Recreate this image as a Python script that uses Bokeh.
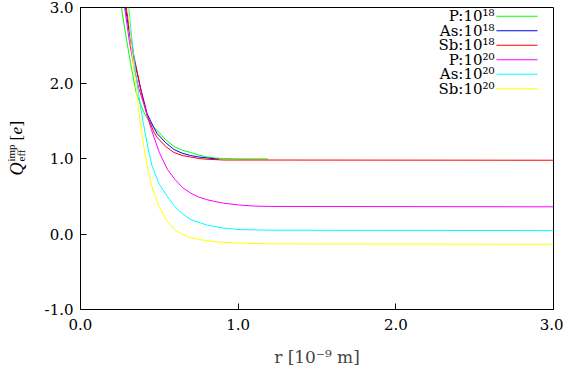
import math
from bokeh.plotting import figure
from bokeh.layouts import row
from bokeh.models import Label, BoxAnnotation, FixedTicker, CustomJSTickFormatter, Range1d
from bokeh.core.properties import value
from bokeh.embed import file_html
from bokeh.resources import INLINE

# ---- data ----
series_names = ["P:10¹⁸", "As:10¹⁸", "Sb:10¹⁸", "P:10²⁰", "As:10²⁰", "Sb:10²⁰"]
series_colors = ["#00ff00", "#0000ff", "#ff0000", "#ff00ff", "#00ffff", "#ffff00"]

r_P18 = [0.260, 0.285, 0.317, 0.353, 0.40, 0.44, 0.486, 0.54, 0.592, 0.645, 0.698, 0.75, 0.803, 0.856, 0.909, 1.0, 1.19]
q_P18 = [3.0, 2.66, 2.27, 1.87, 1.62, 1.47, 1.37, 1.25, 1.16, 1.11, 1.08, 1.045, 1.02, 1.005, 1.0, 0.995, 0.995]

r_As18 = [0.285, 0.33, 0.385, 0.423, 0.465, 0.486, 0.54, 0.592, 0.645, 0.698, 0.75, 0.803, 0.877]
q_As18 = [3.0, 2.4, 1.90, 1.59, 1.41, 1.33, 1.21, 1.12, 1.07, 1.04, 1.02, 1.007, 0.99]

r_Sb18 = [0.29, 0.335, 0.385, 0.423, 0.465, 0.486, 0.54, 0.592, 0.645, 0.698, 0.75, 0.803, 0.909, 3.0]
q_Sb18 = [3.0, 2.4, 1.88, 1.57, 1.35, 1.28, 1.16, 1.08, 1.04, 1.02, 1.0, 0.99, 0.98, 0.977]

r_P20 = [0.28, 0.31, 0.34, 0.37, 0.41, 0.45, 0.50, 0.55, 0.60, 0.65, 0.70, 0.75, 0.80, 0.90, 1.00, 1.10, 1.20, 3.0]
q_P20 = [3.0, 2.55, 2.2, 1.93, 1.66, 1.38, 1.08, 0.86, 0.72, 0.61, 0.54, 0.49, 0.455, 0.41, 0.385, 0.37, 0.365, 0.36]

r_As20 = [0.306, 0.33, 0.355, 0.38, 0.40, 0.43, 0.455, 0.50, 0.55, 0.60, 0.65, 0.70, 0.80, 0.90, 1.0, 1.2, 3.0]
q_As20 = [3.0, 2.5, 2.05, 1.70, 1.45, 1.12, 0.89, 0.66, 0.50, 0.36, 0.26, 0.19, 0.12, 0.08, 0.06, 0.05, 0.045]

r_Sb20 = [0.30, 0.325, 0.35, 0.375, 0.40, 0.425, 0.45, 0.50, 0.55, 0.60, 0.65, 0.70, 0.80, 0.90, 1.0, 1.2, 3.0]
q_Sb20 = [3.0, 2.45, 1.98, 1.55, 1.18, 0.88, 0.65, 0.35, 0.17, 0.05, -0.01, -0.05, -0.09, -0.11, -0.12, -0.13, -0.137]

x_ticks = [0, 1, 2, 3]
y_ticks = [-1, 0, 1, 2, 3]

series_r = [r_P18, r_As18, r_Sb18, r_P20, r_As20, r_Sb20]
series_q = [q_P18, q_As18, q_Sb18, q_P20, q_As20, q_Sb20]

FONT = "DejaVu Serif"
LFONT = "Liberation Serif"
LEFT_W = 30
H = 373

# ---- strip holding the y-axis title (Q^imp_eff [e]); page pixels, y measured upward ----
lab = figure(frame_width=LEFT_W, frame_height=H, x_range=Range1d(0, LEFT_W), y_range=Range1d(0, H),
             min_border=0, min_border_left=0, min_border_right=0, min_border_top=0, min_border_bottom=0,
             title=None, output_backend="svg", toolbar_location=None,
             outline_line_color=None, background_fill_color="white", border_fill_color="white")
lab.axis.visible = False
lab.grid.visible = False
ylab_pieces = [
    # text, x, y, size, style
    ("Q", 16, 205, "18px", "italic"),
    ("imp", 10, 219, "11px", "normal"),
    ("eff", 20, 219, "11px", "normal"),
    ("[", 16, 240, "17px", "normal"),
    ("e", 16, 246, "17px", "italic"),
    ("]", 16, 254, "17px", "normal"),
]
for txt, xx, yy, fs, st in ylab_pieces:
    lab.text(x=[xx], y=[yy], text=[txt], angle=math.pi / 2,
             text_font=value(LFONT), text_font_size=fs, text_font_style=st,
             text_align="left", text_baseline="alphabetic", text_color="black")

# ---- main plot ----
p = figure(frame_width=473, frame_height=302,
           min_border_left=80 - LEFT_W, min_border_right=10, min_border_top=7, min_border_bottom=64,
           x_range=Range1d(0, 3), y_range=Range1d(-1, 3),
           output_backend="svg", toolbar_location=None,
           background_fill_color="white", border_fill_color="white")

for rr, qq, c in zip(series_r, series_q, series_colors):
    p.line(rr, qq, line_color=c, line_width=1)

p.xgrid.grid_line_color = None
p.ygrid.grid_line_color = None
p.outline_line_color = "black"
p.outline_line_alpha = 1
p.outline_line_width = 1

p.xaxis.ticker = FixedTicker(ticks=x_ticks)
p.yaxis.ticker = FixedTicker(ticks=y_ticks)
fmt = CustomJSTickFormatter(code="return tick.toFixed(1);")
p.xaxis.formatter = fmt
p.yaxis.formatter = fmt
for ax in (p.xaxis, p.yaxis):
    ax.major_tick_in = 6
    ax.major_tick_out = 0
    ax.minor_tick_line_color = None
    ax.axis_line_color = "black"
    ax.major_tick_line_color = "black"
    ax.major_label_text_font = FONT
    ax.major_label_text_font_size = "15px"
    ax.major_label_text_color = "black"
p.xaxis.major_label_standoff = 9
p.yaxis.major_label_standoff = 7

p.xaxis.axis_label = "r [10⁻⁹ m]"
p.xaxis.axis_label_text_font = FONT
p.xaxis.axis_label_text_font_style = "normal"
p.xaxis.axis_label_text_font_size = "17px"
p.xaxis.axis_label_standoff = 14

# legend (top right, labels left of line samples)
for i, (name, c) in enumerate(zip(series_names, series_colors)):
    yy = 302 - 8.7 - 14.5 * i
    p.add_layout(Label(x=414, y=yy, x_units="screen", y_units="screen", text=name,
                       text_font=FONT, text_font_size="15px", text_align="right",
                       text_baseline="middle", text_color="black"))
    p.add_layout(BoxAnnotation(left=416, right=457, top=yy + 0.5, bottom=yy - 0.5,
                               left_units="screen", right_units="screen",
                               top_units="screen", bottom_units="screen",
                               fill_color=c, fill_alpha=1, line_alpha=0))

layout = row(lab, p, spacing=0)
open("out.html", "w").write(file_html(layout, INLINE))
